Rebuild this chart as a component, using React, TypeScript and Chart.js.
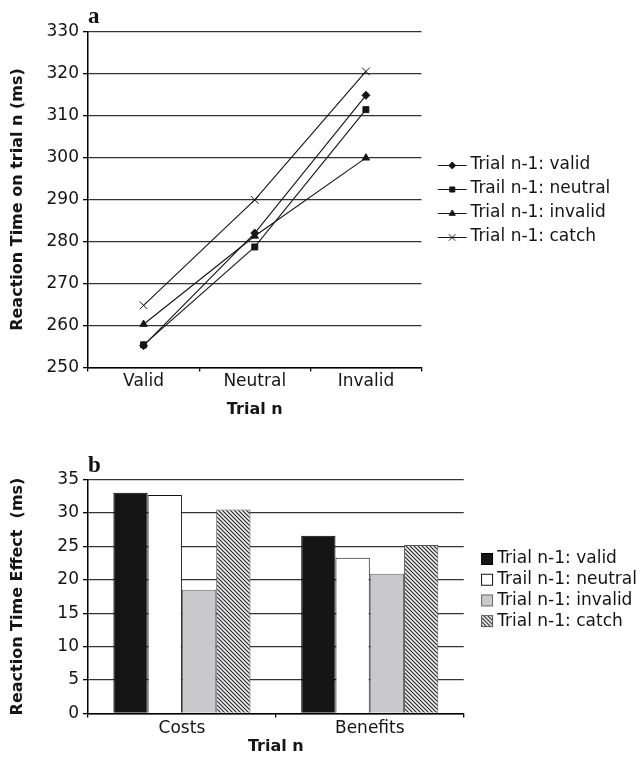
import React, { useEffect, useRef } from 'react';
import { Chart, registerables } from 'chart.js';
import { drawPoint } from 'chart.js/helpers';

Chart.register(...registerables);

// ---------- data: panel a ----------
const lineCategories = ['Valid', 'Neutral', 'Invalid'];
const lineSeriesNames = ['Trial n-1: valid', 'Trail n-1: neutral', 'Trial n-1: invalid', 'Trial n-1: catch'];
const rtValid = [255.2, 282.0, 314.8];
const rtNeutral = [255.4, 278.7, 311.4];
const rtInvalid = [260.3, 281.3, 299.9];
const rtCatch = [264.8, 289.9, 320.5];
const lineYMin = 250;
const lineYMax = 330;
const lineYStep = 10;

// ---------- data: panel b ----------
const barCategories = ['Costs', 'Benefits'];
const barSeriesNames = ['Trial n-1: valid', 'Trail n-1: neutral', 'Trial n-1: invalid', 'Trial n-1: catch'];
const effValid = [33.0, 26.6];
const effNeutral = [32.7, 23.3];
const effInvalid = [18.5, 20.9];
const effCatch = [30.5, 25.2];
const barYMin = 0;
const barYMax = 35;
const barYStep = 5;

const SANS = '"DejaVu Sans", "Liberation Sans", sans-serif';
const SERIF = '"Liberation Serif", "DejaVu Serif", serif';
const INK = '#151515';

const pointStyles = ['rectRot', 'rect', 'triangle', 'crossRot'];
const pointRadii = [4, 4.2, 4.2, 5.5];

function makeHatch(): CanvasPattern | string {
  const c = document.createElement('canvas');
  c.width = 4;
  c.height = 4;
  const g = c.getContext('2d');
  if (!g) return '#ccc';
  g.fillStyle = '#f2f2f2';
  g.fillRect(0, 0, 4, 4);
  g.strokeStyle = '#2a2a2a';
  g.lineWidth = 1.2;
  g.beginPath();
  g.moveTo(-1, -1); g.lineTo(5, 5);
  g.moveTo(-1, 3); g.lineTo(1, 5);
  g.moveTo(3, -1); g.lineTo(5, 1);
  g.stroke();
  const p = g.createPattern(c, 'repeat');
  return p || '#ccc';
}

function lineLegendImage(style: string, radius: number): HTMLCanvasElement {
  const c = document.createElement('canvas');
  c.width = 44;
  c.height = 14;
  const g = c.getContext('2d')!;
  g.strokeStyle = INK;
  g.fillStyle = INK;
  g.lineWidth = 1;
  g.beginPath();
  g.moveTo(14.5, 7.5);
  g.lineTo(43.5, 7.5);
  g.stroke();
  drawPoint(g, { pointStyle: style as any, radius: radius * 0.85, borderWidth: 1, rotation: 0 }, 29, 7.5);
  return c;
}

function boxLegendImage(fill: string | CanvasPattern, stroke: string): HTMLCanvasElement {
  const c = document.createElement('canvas');
  c.width = 32;
  c.height = 14;
  const g = c.getContext('2d')!;
  g.fillStyle = fill as any;
  g.fillRect(19.5, 1.5, 11, 11);
  g.strokeStyle = stroke;
  g.lineWidth = 1;
  g.strokeRect(19.5, 1.5, 11, 11);
  return c;
}

const panelLabel = (text: string, dy: number) => ({
  id: 'panelLabel' + text,
  afterDraw(chart: Chart) {
    const { ctx, chartArea } = chart;
    ctx.save();
    ctx.font = 'bold 23px ' + SERIF;
    ctx.fillStyle = '#111';
    ctx.textAlign = 'left';
    ctx.textBaseline = 'alphabetic';
    ctx.fillText(text, chartArea.left, chartArea.top - dy);
    ctx.restore();
  },
});

function axisCommon(nCats: number, xHeight: number, tickPad: number, titleBottom: number) {
  return {
    type: 'category' as const,
    offset: true,
    grid: {
      offset: true,
      drawOnChartArea: true,
      color: (ctx: any) => (ctx.index === nCats ? '#222' : 'rgba(0,0,0,0)'),
      lineWidth: 1.3,
      tickColor: '#000',
      tickLength: 4,
    },
    border: { display: true, color: '#000', width: 1.5 },
    ticks: { font: { family: SANS, size: 17 }, color: INK, padding: tickPad, maxRotation: 0, autoSkip: false },
    title: {
      display: true,
      text: 'Trial n',
      font: { family: SANS, size: 16, weight: 'bold' as const },
      color: INK,
      padding: { top: 0, bottom: titleBottom },
    },
    afterFit: (s: any) => {
      s.height = xHeight;
    },
  };
}

function LineChart() {
  const ref = useRef<HTMLCanvasElement>(null);
  useEffect(() => {
    if (!ref.current) return;
    const imgs = pointStyles.map((s, i) => lineLegendImage(s, pointRadii[i]));
    const series = [rtValid, rtNeutral, rtInvalid, rtCatch];
    const chart = new Chart(ref.current, {
      type: 'line',
      data: {
        labels: lineCategories,
        datasets: series.map((d, i) => ({
          label: lineSeriesNames[i],
          data: d,
          borderColor: INK,
          backgroundColor: INK,
          borderWidth: 1.1,
          pointStyle: pointStyles[i] as any,
          pointRadius: pointRadii[i],
          pointBorderWidth: 1,
          pointBackgroundColor: INK,
          pointBorderColor: INK,
          tension: 0,
        })),
      },
      options: {
        animation: false,
        responsive: false,
        layout: { padding: { top: 31.5, right: 21.7, bottom: 0, left: 0 } },
        scales: {
          x: axisCommon(lineCategories.length, 52.5, 0, 1) as any,
          y: {
            min: lineYMin,
            max: lineYMax,
            ticks: { stepSize: lineYStep, font: { family: SANS, size: 17 }, color: INK, padding: 4 },
            grid: { color: '#333', lineWidth: 1.3, tickLength: 5, tickColor: '#000' },
            border: { display: true, color: '#000', width: 1.5 },
            title: {
              display: true,
              text: 'Reaction Time on trial n (ms)',
              font: { family: SANS, size: 16, weight: 'bold' },
              color: INK,
              padding: { top: 8.4, bottom: 0 },
            },
            afterFit: (s: any) => {
              s.width = 88;
            },
          },
        },
        plugins: {
          tooltip: { enabled: false },
          legend: {
            position: 'right',
            align: 'start',
            maxWidth: 400,
            title: { display: true, text: '', padding: { top: 106, bottom: 0 }, font: { size: 10 } },
            labels: {
              usePointStyle: true,
              pointStyleWidth: 33.5,
              padding: 7,
              color: INK,
              font: { family: SANS, size: 17 },
              generateLabels: (c: any) =>
                Chart.defaults.plugins.legend.labels
                  .generateLabels(c)
                  .map((it: any, i: number) => ({ ...it, pointStyle: imgs[i] })),
            },
          },
        },
      },
      plugins: [panelLabel('a', 8.8)],
    });
    return () => chart.destroy();
  }, []);
  return <canvas ref={ref} width={642} height={420} style={{ display: 'block', width: 642, height: 420 }} />;
}

function BarChart() {
  const ref = useRef<HTMLCanvasElement>(null);
  useEffect(() => {
    if (!ref.current) return;
    const hatch = makeHatch();
    const fills: (string | CanvasPattern)[] = ['#151515', '#ffffff', '#c9c9cb', hatch];
    const strokes = ['#000000', '#111111', '#666666', '#555555'];
    const imgs = fills.map((f, i) => boxLegendImage(f, strokes[i]));
    const series = [effValid, effNeutral, effInvalid, effCatch];
    const chart = new Chart(ref.current, {
      type: 'bar',
      data: {
        labels: barCategories,
        datasets: series.map((d, i) => ({
          label: barSeriesNames[i],
          data: d,
          backgroundColor: fills[i] as any,
          borderColor: strokes[i],
          borderWidth: 1,
          categoryPercentage: 0.73,
          barPercentage: 1,
        })),
      },
      options: {
        animation: false,
        responsive: false,
        layout: { padding: { top: 59.5, right: -5, bottom: 0, left: 0 } },
        scales: {
          x: axisCommon(barCategories.length, 43.5, 1, 0.7) as any,
          y: {
            min: barYMin,
            max: barYMax,
            ticks: { stepSize: barYStep, font: { family: SANS, size: 17 }, color: INK, padding: 4 },
            grid: { color: '#333', lineWidth: 1.3, tickLength: 5, tickColor: '#000' },
            border: { display: true, color: '#000', width: 1.5 },
            title: {
              display: true,
              text: 'Reaction Time Effect  (ms)',
              font: { family: SANS, size: 16, weight: 'bold' },
              color: INK,
              padding: { top: 8.4, bottom: 0 },
            },
            afterFit: (s: any) => {
              s.width = 88;
            },
          },
        },
        plugins: {
          tooltip: { enabled: false },
          legend: {
            position: 'right',
            align: 'start',
            maxWidth: 400,
            title: { display: true, text: '', padding: { top: 55.3, bottom: 0 }, font: { size: 10 } },
            labels: {
              usePointStyle: true,
              pointStyleWidth: 21.3,
              padding: 3.7,
              color: INK,
              font: { family: SANS, size: 17 },
              generateLabels: (c: any) =>
                Chart.defaults.plugins.legend.labels
                  .generateLabels(c)
                  .map((it: any, i: number) => ({ ...it, pointStyle: imgs[i] })),
            },
          },
        },
      },
      plugins: [panelLabel('b', 7.8)],
    });
    return () => chart.destroy();
  }, []);
  return <canvas ref={ref} width={642} height={337} style={{ display: 'block', width: 642, height: 337 }} />;
}

export default function App() {
  return (
    <div style={{ position: 'absolute', left: 0, top: 0, width: 642, height: 757, background: '#fff' }}>
      <LineChart />
      <BarChart />
    </div>
  );
}
